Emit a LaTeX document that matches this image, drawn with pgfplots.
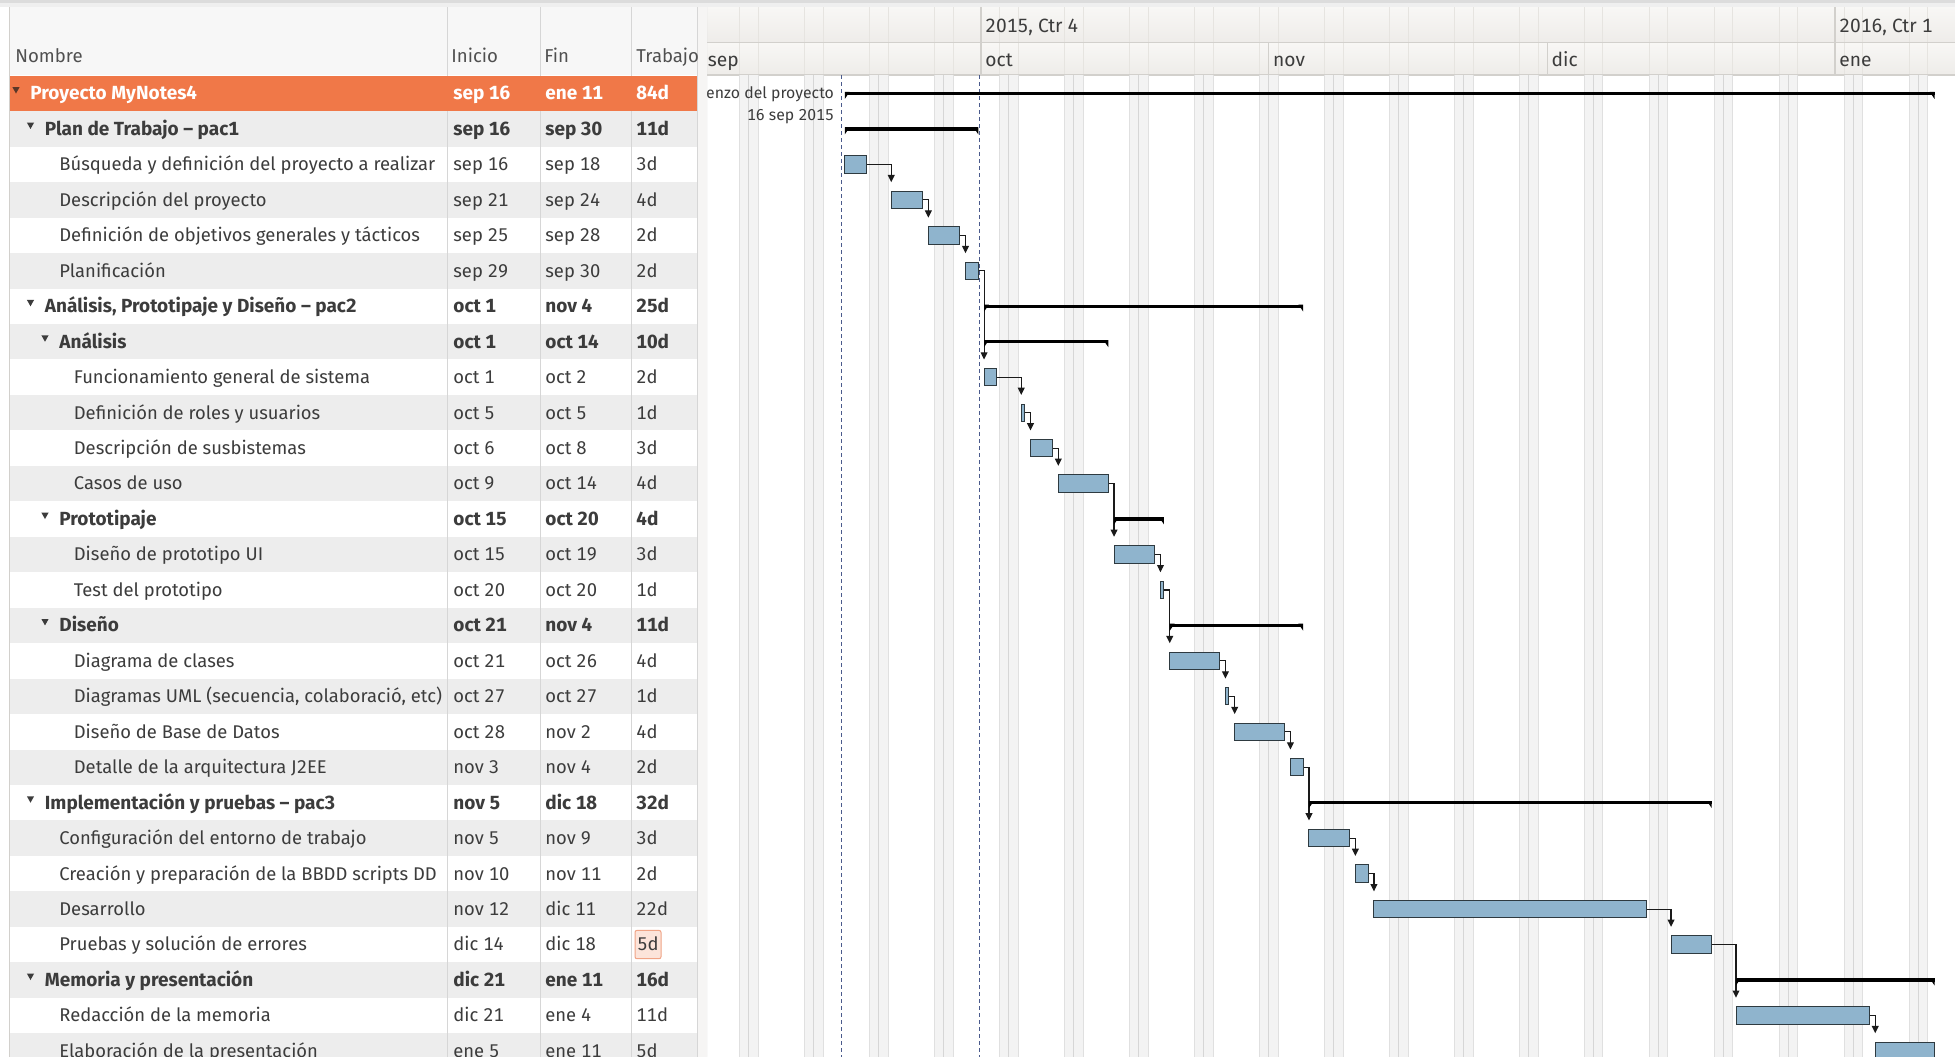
\documentclass[border=0pt]{standalone}
\usepackage{pgfplots}
\pgfplotsset{compat=1.18}
\usepackage{pgfplotstable}
\usepackage{fontspec}
\setmainfont[Numbers=Monospaced]{Fira Sans}
\usetikzlibrary{arrows.meta}

\definecolor{orangeSel}{HTML}{F07848}
\definecolor{rowgrey}{HTML}{EDEDED}
\definecolor{txt}{HTML}{3C3C3C}
\definecolor{hdrtxt}{HTML}{505050}
\definecolor{colline}{HTML}{D6D6D6}
\definecolor{taskfill}{HTML}{8FB4CD}
\definecolor{taskborder}{HTML}{2E3A40}
\definecolor{depcol}{HTML}{1A1A1A}
\definecolor{dashcol}{HTML}{4A5A8C}
\definecolor{wkfill}{HTML}{F3F3F3}
\definecolor{wkedge}{HTML}{E0E0E0}
\definecolor{wkmid}{HTML}{D6D6D6}
\definecolor{hdrA}{HTML}{F8F7F5}
\definecolor{hdrB}{HTML}{EEECE9}
\definecolor{hdrline}{HTML}{D2D0CC}
\definecolor{hdrfaint}{HTML}{E6E4E0}
\definecolor{topstrip}{HTML}{DCDCDC}
\definecolor{topstripB}{HTML}{EFEFEF}
\definecolor{splitter}{HTML}{F6F5F4}
\definecolor{boxfill}{HTML}{FCE4DA}
\definecolor{boxdraw}{HTML}{F0A486}

% task bars: row, start, end (days since 1 Sep 2015)
\pgfplotstableread{
r s e
2 15.33 17.71
3 20.33 23.71
4 24.33 27.71
5 28.33 29.71
8 30.33 31.71
9 34.33 34.71
10 35.33 37.71
11 38.33 43.71
13 44.33 48.71
14 49.33 49.71
16 50.33 55.71
17 56.33 56.71
18 57.33 62.71
19 63.33 64.71
21 65.33 69.71
22 70.33 71.71
23 72.33 101.71
24 104.33 108.71
26 111.33 125.71
27 126.33 132.71
}\tasks

% summary bars
\pgfplotstableread{
r s e
0 15.33 132.71
1 15.33 29.71
6 30.33 64.71
7 30.33 43.71
12 44.33 49.71
15 50.33 64.71
20 65.33 108.71
25 111.33 132.71
}\summ

\pgfdeclareplotmark{wedgeL}{%
  \pgfpathmoveto{\pgfqpoint{0pt}{0.85pt}}%
  \pgfpathlineto{\pgfqpoint{2.4pt}{0.85pt}}%
  \pgfpathlineto{\pgfqpoint{0pt}{-2.7pt}}%
  \pgfpathclose\pgfusepathqfill}
\pgfdeclareplotmark{wedgeR}{%
  \pgfpathmoveto{\pgfqpoint{0pt}{0.85pt}}%
  \pgfpathlineto{\pgfqpoint{-2.4pt}{0.85pt}}%
  \pgfpathlineto{\pgfqpoint{0pt}{-2.7pt}}%
  \pgfpathclose\pgfusepathqfill}

\tikzset{
  tx/.style={anchor=base west, inner sep=0pt, text=txt, font=\fontsize{9.2}{10}\selectfont, yshift=-3.2pt},
  bx/.style={tx, font=\fontsize{9.5}{10}\selectfont\bfseries},
  wx/.style={bx, text=white},
  hx/.style={tx, text=hdrtxt, font=\fontsize{9.3}{10}\selectfont},
  gx/.style={tx, font=\fontsize{9.6}{10}\selectfont},
  tri/.style={fill=txt},
}
\newcommand{\tri}[2]{\fill[tri] (axis cs:{16+14.5*#2},#1) ++(-1.8pt,3.2pt) -- ++(3.6pt,0pt) -- ++(-1.8pt,-3.2pt) -- cycle;}

\pgfplotsset{
  common/.style={width=624pt, height=528pt, scale only axis, hide axis,
    xmin=0.485, xmax=134.92, ymin=-2.637, ymax=27.144, y dir=reverse,
    at={(353.5pt,0pt)}, anchor=north west},
  dep/.style={draw=depcol, line width=0.55pt, mark=none, -{Triangle[length=3.6pt,width=3.4pt]}},
  summline/.style={draw=black, line width=1.7pt, mark=none},
}

\begin{document}
\begin{tikzpicture}
\useasboundingbox (0pt,0pt) rectangle (977.5pt,-528pt);

%================ Gantt background ================
\begin{axis}[common]
\fill[white] (axis cs:0.485,-2.637) rectangle (axis cs:134.92,27.144);
\fill[topstrip] (axis cs:0.485,-2.637) rectangle (axis cs:134.92,-2.553);
\fill[topstripB] (axis cs:0.485,-2.553) rectangle (axis cs:134.92,-2.44);
\shade[top color=hdrA, bottom color=hdrB] (axis cs:0.485,-2.44) rectangle (axis cs:134.92,-1.438);
\shade[top color=hdrA, bottom color=hdrB] (axis cs:0.485,-1.438) rectangle (axis cs:134.92,-0.522);
\pgfplotsinvokeforeach{4,11,...,130}{
  \draw[hdrfaint, line width=0.5pt] (axis cs:#1,-2.44) -- (axis cs:#1,-0.522);
  \draw[hdrfaint, line width=0.5pt] (axis cs:#1+2,-2.44) -- (axis cs:#1+2,-0.522);
}
\draw[hdrline, line width=0.6pt] (axis cs:0.485,-1.438) -- (axis cs:134.92,-1.438);
\draw[hdrline, line width=0.6pt] (axis cs:0.485,-0.522) -- (axis cs:134.92,-0.522);
\draw[hdrline, line width=0.6pt] (axis cs:30,-2.44) -- (axis cs:30,-0.522);
\draw[hdrline, line width=0.6pt] (axis cs:122,-2.44) -- (axis cs:122,-0.522);
\draw[hdrline, line width=0.6pt] (axis cs:61,-1.438) -- (axis cs:61,-0.522);
\draw[hdrline, line width=0.6pt] (axis cs:91,-1.438) -- (axis cs:91,-0.522);
\node[gx, xshift=2pt] at (axis cs:30,-1.904) {2015, Ctr 4};
\node[gx, xshift=2pt] at (axis cs:122,-1.904) {2016, Ctr 1};
\node[gx, xshift=2.5pt] at (axis cs:0,-0.945) {sep};
\node[gx, xshift=2pt] at (axis cs:30,-0.945) {oct};
\node[gx, xshift=2pt] at (axis cs:61,-0.945) {nov};
\node[gx, xshift=2pt] at (axis cs:91,-0.945) {dic};
\node[gx, xshift=2pt] at (axis cs:122,-0.945) {ene};

% weekend bands
\pgfplotsinvokeforeach{4,11,...,130}{
  \fill[wkfill] (axis cs:#1,-0.51) rectangle (axis cs:#1+2,27.2);
  \draw[wkedge, line width=0.5pt] (axis cs:#1,-0.51) -- (axis cs:#1,27.2);
  \draw[wkmid, line width=0.5pt] (axis cs:#1+1,-0.51) -- (axis cs:#1+1,27.2);
  \draw[wkedge, line width=0.5pt] (axis cs:#1+2,-0.51) -- (axis cs:#1+2,27.2);
}

% project start and today lines
\addplot[dashcol, line width=0.5pt, dash pattern=on 2pt off 1.5pt, mark=none] coordinates {(15,-0.51) (15,27.2)};
\addplot[dashcol, line width=0.5pt, dash pattern=on 2pt off 1.5pt, mark=none] coordinates {(29.85,-0.51) (29.85,27.2)};

\node[anchor=base east, inner sep=0pt, text=txt, font=\fontsize{7.9}{8}\selectfont, yshift=-2.7pt] at (axis cs:14.2,0) {Comienzo del proyecto};
\node[anchor=base east, inner sep=0pt, text=txt, font=\fontsize{7.9}{8}\selectfont, yshift=-2.7pt] at (axis cs:14.2,0.62) {16 sep 2015};

% summary bars
\addplot[summline] coordinates {(15.33,0) (132.71,0)};
\addplot[summline] coordinates {(15.33,1) (29.71,1)};
\addplot[summline] coordinates {(30.33,6) (64.71,6)};
\addplot[summline] coordinates {(30.33,7) (43.71,7)};
\addplot[summline] coordinates {(44.33,12) (49.71,12)};
\addplot[summline] coordinates {(50.33,15) (64.71,15)};
\addplot[summline] coordinates {(65.33,20) (108.71,20)};
\addplot[summline] coordinates {(111.33,25) (132.71,25)};
\addplot[only marks, mark=wedgeL, black] table[x=s, y=r] {\summ};
\addplot[only marks, mark=wedgeR, black] table[x=e, y=r] {\summ};

% dependencies
\addplot[dep] coordinates {(17.71,2) (20.33,2) (20.33,2.5)};
\addplot[dep] coordinates {(23.71,3) (24.33,3) (24.33,3.5)};
\addplot[dep] coordinates {(27.71,4) (28.33,4) (28.33,4.5)};
\addplot[dep] coordinates {(29.71,5) (30.33,5) (30.33,7.5)};
\addplot[dep] coordinates {(31.71,8) (34.33,8) (34.33,8.5)};
\addplot[dep] coordinates {(34.71,9) (35.33,9) (35.33,9.5)};
\addplot[dep] coordinates {(37.71,10) (38.33,10) (38.33,10.5)};
\addplot[dep] coordinates {(43.71,11) (44.33,11) (44.33,12.5)};
\addplot[dep] coordinates {(48.71,13) (49.33,13) (49.33,13.5)};
\addplot[dep] coordinates {(49.71,14) (50.33,14) (50.33,15.5)};
\addplot[dep] coordinates {(55.71,16) (56.33,16) (56.33,16.5)};
\addplot[dep] coordinates {(56.71,17) (57.33,17) (57.33,17.5)};
\addplot[dep] coordinates {(62.71,18) (63.33,18) (63.33,18.5)};
\addplot[dep] coordinates {(64.71,19) (65.33,19) (65.33,20.5)};
\addplot[dep] coordinates {(69.71,21) (70.33,21) (70.33,21.5)};
\addplot[dep] coordinates {(71.71,22) (72.33,22) (72.33,22.5)};
\addplot[dep] coordinates {(101.71,23) (104.33,23) (104.33,23.5)};
\addplot[dep] coordinates {(108.71,24) (111.33,24) (111.33,25.5)};
\addplot[dep] coordinates {(125.71,26) (126.33,26) (126.33,26.5)};
\end{axis}

%================ Task bars ================
\begin{axis}[common, xbar stacked, bar width=0.488]
\addplot[draw=none, fill=none, mark=none] table[x=s, y=r] {\tasks};
\addplot[fill=taskfill, draw=taskborder, line width=0.5pt, mark=none] table[x expr=\thisrow{e}-\thisrow{s}, y=r] {\tasks};
\end{axis}

%================ Table ================
\begin{axis}[width=353.5pt, height=528pt, scale only axis, hide axis,
  xmin=0, xmax=707, ymin=-2.637, ymax=27.144, y dir=reverse,
  at={(0pt,0pt)}, anchor=north west]
\fill[white] (axis cs:0,-2.637) rectangle (axis cs:707,27.144);
\fill[topstrip] (axis cs:0,-2.637) rectangle (axis cs:707,-2.553);
\fill[topstripB] (axis cs:0,-2.553) rectangle (axis cs:707,-2.44);
\fill[white!97!black] (axis cs:9,-2.44) rectangle (axis cs:697,-0.522);
\pgfplotsinvokeforeach{1,3,...,27}{
  \fill[rowgrey] (axis cs:9,#1-0.5) rectangle (axis cs:697,#1+0.5);
}
\draw[colline, line width=0.5pt] (axis cs:447,-2.44) -- (axis cs:447,27.2);
\draw[colline, line width=0.5pt] (axis cs:540,-2.44) -- (axis cs:540,27.2);
\draw[colline, line width=0.5pt] (axis cs:631,-2.44) -- (axis cs:631,27.2);
\fill[orangeSel] (axis cs:9,-0.5) rectangle (axis cs:697,0.5);
\fill[splitter] (axis cs:697,-2.44) rectangle (axis cs:707,27.2);
\draw[colline, line width=0.5pt] (axis cs:697,-2.44) -- (axis cs:697,27.2);
\draw[colline, line width=0.5pt] (axis cs:707,-2.44) -- (axis cs:707,27.2);
\draw[hdrline, line width=0.5pt] (axis cs:9,-2.44) -- (axis cs:9,27.2);

% header
\node[hx] at (axis cs:15,-1.058) {Nombre};
\node[hx] at (axis cs:451,-1.058) {Inicio};
\node[hx] at (axis cs:544,-1.058) {Fin};
\node[hx] at (axis cs:636,-1.058) {Trabajo};

% edit box
\filldraw[fill=boxfill, draw=boxdraw, line width=0.5pt, rounded corners=1pt] (axis cs:635,23.6) rectangle (axis cs:661,24.4);

% expander triangles
\fill[fill={rgb,255:red,90;green,55;blue,40}] (axis cs:16,0) ++(-1.8pt,3.2pt) -- ++(3.6pt,0pt) -- ++(-1.8pt,-3.2pt) -- cycle;
\tri{1}{1}
\tri{6}{1}
\tri{7}{2}
\tri{12}{2}
\tri{15}{2}
\tri{20}{1}
\tri{25}{1}

% names (clipped to column)
\pgfplotsextra{
\begin{scope}
\clip (axis cs:0,-3) rectangle (axis cs:446,28);
\node[wx] at (axis cs:30,0) {Proyecto MyNotes4};
\node[bx] at (axis cs:44.5,1) {Plan de Trabajo – pac1};
\node[tx] at (axis cs:59,2) {Búsqueda y definición del proyecto a realizar};
\node[tx] at (axis cs:59,3) {Descripción del proyecto};
\node[tx] at (axis cs:59,4) {Definición de objetivos generales y tácticos};
\node[tx] at (axis cs:59,5) {Planificación};
\node[bx] at (axis cs:44.5,6) {Análisis, Prototipaje y Diseño – pac2};
\node[bx] at (axis cs:59,7) {Análisis};
\node[tx] at (axis cs:73.5,8) {Funcionamiento general de sistema};
\node[tx] at (axis cs:73.5,9) {Definición de roles y usuarios};
\node[tx] at (axis cs:73.5,10) {Descripción de susbistemas};
\node[tx] at (axis cs:73.5,11) {Casos de uso};
\node[bx] at (axis cs:59,12) {Prototipaje};
\node[tx] at (axis cs:73.5,13) {Diseño de prototipo UI};
\node[tx] at (axis cs:73.5,14) {Test del prototipo};
\node[bx] at (axis cs:59,15) {Diseño};
\node[tx] at (axis cs:73.5,16) {Diagrama de clases};
\node[tx] at (axis cs:73.5,17) {Diagramas UML (secuencia, colaboració, etc)};
\node[tx] at (axis cs:73.5,18) {Diseño de Base de Datos};
\node[tx] at (axis cs:73.5,19) {Detalle de la arquitectura J2EE};
\node[bx] at (axis cs:44.5,20) {Implementación y pruebas – pac3};
\node[tx] at (axis cs:59,21) {Configuración del entorno de trabajo};
\node[tx] at (axis cs:59,22) {Creación y preparación de la BBDD scripts DD};
\node[tx] at (axis cs:59,23) {Desarrollo};
\node[tx] at (axis cs:59,24) {Pruebas y solución de errores};
\node[bx] at (axis cs:44.5,25) {Memoria y presentación};
\node[tx] at (axis cs:59,26) {Redacción de la memoria};
\node[tx] at (axis cs:59,27) {Elaboración de la presentación};
\end{scope}
}

% Inicio / Fin / Trabajo
\node[wx] at (axis cs:453,0) {sep 16}; \node[wx] at (axis cs:545,0) {ene 11}; \node[wx] at (axis cs:636,0) {84d};
\node[bx] at (axis cs:453,1) {sep 16}; \node[bx] at (axis cs:545,1) {sep 30}; \node[bx] at (axis cs:636,1) {11d};
\node[tx] at (axis cs:453,2) {sep 16}; \node[tx] at (axis cs:545,2) {sep 18}; \node[tx] at (axis cs:636,2) {3d};
\node[tx] at (axis cs:453,3) {sep 21}; \node[tx] at (axis cs:545,3) {sep 24}; \node[tx] at (axis cs:636,3) {4d};
\node[tx] at (axis cs:453,4) {sep 25}; \node[tx] at (axis cs:545,4) {sep 28}; \node[tx] at (axis cs:636,4) {2d};
\node[tx] at (axis cs:453,5) {sep 29}; \node[tx] at (axis cs:545,5) {sep 30}; \node[tx] at (axis cs:636,5) {2d};
\node[bx] at (axis cs:453,6) {oct 1}; \node[bx] at (axis cs:545,6) {nov 4}; \node[bx] at (axis cs:636,6) {25d};
\node[bx] at (axis cs:453,7) {oct 1}; \node[bx] at (axis cs:545,7) {oct 14}; \node[bx] at (axis cs:636,7) {10d};
\node[tx] at (axis cs:453,8) {oct 1}; \node[tx] at (axis cs:545,8) {oct 2}; \node[tx] at (axis cs:636,8) {2d};
\node[tx] at (axis cs:453,9) {oct 5}; \node[tx] at (axis cs:545,9) {oct 5}; \node[tx] at (axis cs:636,9) {1d};
\node[tx] at (axis cs:453,10) {oct 6}; \node[tx] at (axis cs:545,10) {oct 8}; \node[tx] at (axis cs:636,10) {3d};
\node[tx] at (axis cs:453,11) {oct 9}; \node[tx] at (axis cs:545,11) {oct 14}; \node[tx] at (axis cs:636,11) {4d};
\node[bx] at (axis cs:453,12) {oct 15}; \node[bx] at (axis cs:545,12) {oct 20}; \node[bx] at (axis cs:636,12) {4d};
\node[tx] at (axis cs:453,13) {oct 15}; \node[tx] at (axis cs:545,13) {oct 19}; \node[tx] at (axis cs:636,13) {3d};
\node[tx] at (axis cs:453,14) {oct 20}; \node[tx] at (axis cs:545,14) {oct 20}; \node[tx] at (axis cs:636,14) {1d};
\node[bx] at (axis cs:453,15) {oct 21}; \node[bx] at (axis cs:545,15) {nov 4}; \node[bx] at (axis cs:636,15) {11d};
\node[tx] at (axis cs:453,16) {oct 21}; \node[tx] at (axis cs:545,16) {oct 26}; \node[tx] at (axis cs:636,16) {4d};
\node[tx] at (axis cs:453,17) {oct 27}; \node[tx] at (axis cs:545,17) {oct 27}; \node[tx] at (axis cs:636,17) {1d};
\node[tx] at (axis cs:453,18) {oct 28}; \node[tx] at (axis cs:545,18) {nov 2}; \node[tx] at (axis cs:636,18) {4d};
\node[tx] at (axis cs:453,19) {nov 3}; \node[tx] at (axis cs:545,19) {nov 4}; \node[tx] at (axis cs:636,19) {2d};
\node[bx] at (axis cs:453,20) {nov 5}; \node[bx] at (axis cs:545,20) {dic 18}; \node[bx] at (axis cs:636,20) {32d};
\node[tx] at (axis cs:453,21) {nov 5}; \node[tx] at (axis cs:545,21) {nov 9}; \node[tx] at (axis cs:636,21) {3d};
\node[tx] at (axis cs:453,22) {nov 10}; \node[tx] at (axis cs:545,22) {nov 11}; \node[tx] at (axis cs:636,22) {2d};
\node[tx] at (axis cs:453,23) {nov 12}; \node[tx] at (axis cs:545,23) {dic 11}; \node[tx] at (axis cs:636,23) {22d};
\node[tx] at (axis cs:453,24) {dic 14}; \node[tx] at (axis cs:545,24) {dic 18}; \node[tx] at (axis cs:637,24) {5d};
\node[bx] at (axis cs:453,25) {dic 21}; \node[bx] at (axis cs:545,25) {ene 11}; \node[bx] at (axis cs:636,25) {16d};
\node[tx] at (axis cs:453,26) {dic 21}; \node[tx] at (axis cs:545,26) {ene 4}; \node[tx] at (axis cs:636,26) {11d};
\node[tx] at (axis cs:453,27) {ene 5}; \node[tx] at (axis cs:545,27) {ene 11}; \node[tx] at (axis cs:636,27) {5d};
\end{axis}
\end{tikzpicture}
\end{document}
